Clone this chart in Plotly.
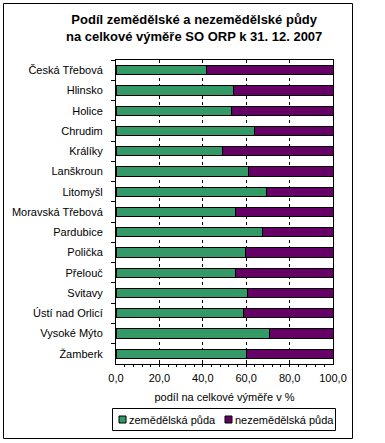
import plotly.graph_objects as go

categories = ["Česká Třebová", "Hlinsko", "Holice", "Chrudim", "Králíky", "Lanškroun",
              "Litomyšl", "Moravská Třebová", "Pardubice", "Polička", "Přelouč",
              "Svitavy", "Ústí nad Orlicí", "Vysoké Mýto", "Žamberk"]
zemedelska = [41.6, 54.1, 53.2, 63.8, 49.0, 61.0, 69.3, 55.0, 67.4, 59.6, 55.0, 60.5, 58.7, 70.6, 60.0]
nezemedelska = [round(100 - v, 1) for v in zemedelska]
series_names = ["zemědělská půda", "nezemědělská půda"]
colors = ["#339966", "#660066"]
x_ticks = [0, 20, 40, 60, 80, 100]
x_tick_labels = ["0,0", "20,0", "40,0", "60,0", "80,0", "100,0"]

W, H = 385, 443
L, R, T, B = 116, 333, 60, 364
FONT = "Liberation Sans, Arial, sans-serif"


def px(x):
    return (x - L) / (R - L)


def py(y):
    return (B - y) / (B - T)


fig = go.Figure()
for name, vals, col in zip(series_names, [zemedelska, nezemedelska], colors):
    fig.add_trace(go.Bar(
        y=categories, x=vals, name=name, orientation="h",
        marker=dict(color=col, line=dict(color="black", width=1)),
        showlegend=False,
    ))

fig.update_layout(
    width=W, height=H,
    margin=dict(l=L, r=W - R, t=T, b=H - B),
    barmode="stack", bargap=0.54,
    paper_bgcolor="white", plot_bgcolor="white",
    font=dict(family=FONT, size=11, color="black"),
)
fig.update_xaxes(
    range=[0, 100], tickvals=x_ticks, ticktext=x_tick_labels,
    showgrid=True, gridcolor="black", griddash="3px,3px", gridwidth=1,
    showline=True, linecolor="black", linewidth=1, mirror=True,
    ticks="inside", ticklen=3, tickcolor="black",
    minor=dict(dtick=4, ticks="outside", ticklen=2, tickcolor="black", showgrid=False),
    zeroline=False, ticklabelstandoff=4,
    title=dict(text="podíl na celkové výměře v %", standoff=10, font=dict(size=11)),
    tickfont=dict(size=11),
)
fig.update_yaxes(
    autorange="reversed", tickson="boundaries",
    showline=True, linecolor="black", linewidth=1, mirror=True,
    ticks="outside", ticklen=4, tickcolor="black",
    showgrid=False, ticklabelstandoff=10,
    tickfont=dict(size=11),
)

# title
fig.add_annotation(
    xref="paper", yref="paper", x=px(194), y=py(28), xanchor="center", yanchor="middle",
    text="<b>Podíl zemědělské a nezemědělské půdy<br>na celkové výměře SO ORP k 31. 12. 2007</b>",
    showarrow=False, font=dict(family=FONT, size=13, color="black"), align="center",
)

# outer frame
fig.add_shape(type="rect", xref="paper", yref="paper",
              x0=px(3.5), x1=px(352.5), y0=py(438.5), y1=py(3.5),
              line=dict(color="black", width=1), fillcolor="rgba(0,0,0,0)", layer="below")

# legend box
fig.add_shape(type="rect", xref="paper", yref="paper",
              x0=px(112.5), x1=px(335.5), y0=py(430.5), y1=py(408.5),
              line=dict(color="black", width=1), fillcolor="white")
leg_x = [119, 225]
for lx, name, col in zip(leg_x, series_names, colors):
    fig.add_shape(type="rect", xref="paper", yref="paper",
                  x0=px(lx), x1=px(lx + 7), y0=py(423), y1=py(416),
                  line=dict(color="black", width=1), fillcolor=col)
    fig.add_annotation(xref="paper", yref="paper", x=px(lx + 8), y=py(419.5),
                       xanchor="left", yanchor="middle", text=name, showarrow=False,
                       font=dict(family=FONT, size=11, color="black"))

fig.write_html("out.html", config={"displayModeBar": False},
               post_script="document.body.style.margin='0';")
